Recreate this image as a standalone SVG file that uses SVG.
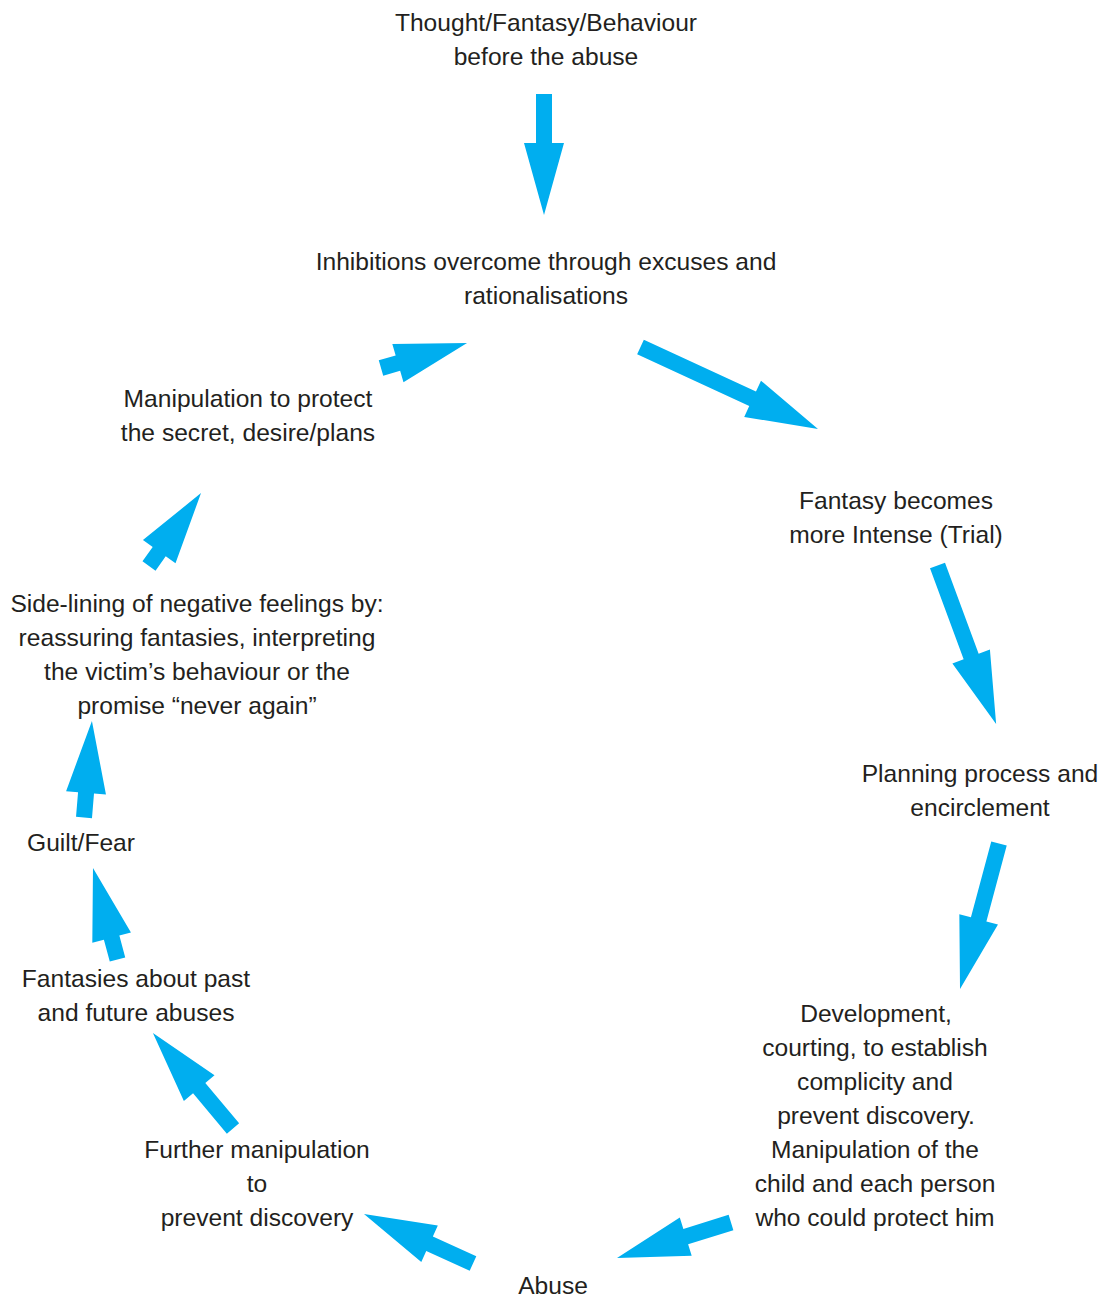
<svg xmlns="http://www.w3.org/2000/svg" width="1104" height="1301" viewBox="0 0 1104 1301">
<style>
text{font-family:"Liberation Sans",Arial,sans-serif;font-size:24.6px;fill:#231F20;text-anchor:middle}
.arr{fill:#00AEEF}
</style>
<rect width="1104" height="1301" fill="#fff"/>
<g id="connectors">
<path class="arr" transform="translate(544,94) rotate(90)" d="M0,-8H49V-20L121,0L49,20V8H0Z"/>
<path class="arr" transform="translate(640.5,347) rotate(24.8)" d="M0,-8H123.5V-20L195.5,0L123.5,20V8H0Z"/>
<path class="arr" transform="translate(381,368) rotate(-16.2)" d="M0,-8H17.6V-20L89.6,0L17.6,20V8H0Z"/>
<path class="arr" transform="translate(937.5,565.5) rotate(69.7)" d="M0,-8H97V-20L169,0L97,20V8H0Z"/>
<path class="arr" transform="translate(999,843.5) rotate(105)" d="M0,-8H78.6V-20L150.6,0L78.6,20V8H0Z"/>
<path class="arr" transform="translate(731,1222.5) rotate(162.7)" d="M0,-8H47.4V-20L119.4,0L47.4,20V8H0Z"/>
<path class="arr" transform="translate(473,1263.5) rotate(-155.6)" d="M0,-8H47.7V-20L119.7,0L47.7,20V8H0Z"/>
<path class="arr" transform="translate(233,1128.5) rotate(-130)" d="M0,-8H52.6V-20L124.6,0L52.6,20V8H0Z"/>
<path class="arr" transform="translate(117.5,959.5) rotate(-105)" d="M0,-8H22.7V-20L94.7,0L22.7,20V8H0Z"/>
<path class="arr" transform="translate(84,817.5) rotate(-85.3)" d="M0,-8H24.8V-20L96.8,0L24.8,20V8H0Z"/>
<path class="arr" transform="translate(149,566) rotate(-54.5)" d="M0,-8H17.6V-20L89.6,0L17.6,20V8H0Z"/>
</g>
<g id="n-thought"><text x="546" y="31">Thought/Fantasy/Behaviour</text><text x="546" y="65">before the abuse</text></g>
<g id="n-inhibitions"><text x="546" y="270">Inhibitions overcome through excuses and</text><text x="546" y="304">rationalisations</text></g>
<g id="n-fantasy"><text x="896" y="509">Fantasy becomes</text><text x="896" y="543">more Intense (Trial)</text></g>
<g id="n-planning"><text x="980" y="782">Planning process and</text><text x="980" y="816">encirclement</text></g>
<g id="n-development"><text x="876" y="1022">Development,</text><text x="875" y="1056">courting, to establish</text><text x="875" y="1090">complicity and</text><text x="876" y="1124">prevent discovery.</text><text x="875" y="1158">Manipulation of the</text><text x="875" y="1192">child and each person</text><text x="875" y="1226">who could protect him</text></g>
<g id="n-abuse"><text x="553" y="1294">Abuse</text></g>
<g id="n-further"><text x="257" y="1158">Further manipulation</text><text x="257" y="1192">to</text><text x="257" y="1226">prevent discovery</text></g>
<g id="n-fantasies"><text x="136" y="987">Fantasies about past</text><text x="136" y="1021">and future abuses</text></g>
<g id="n-guilt"><text x="81" y="851">Guilt/Fear</text></g>
<g id="n-sidelining"><text x="197" y="612">Side-lining of negative feelings by:</text><text x="197" y="646">reassuring fantasies, interpreting</text><text x="197" y="680">the victim’s behaviour or the</text><text x="197" y="714">promise “never again”</text></g>
<g id="n-manipulation"><text x="248" y="407">Manipulation to protect</text><text x="248" y="441">the secret, desire/plans</text></g>
</svg>
